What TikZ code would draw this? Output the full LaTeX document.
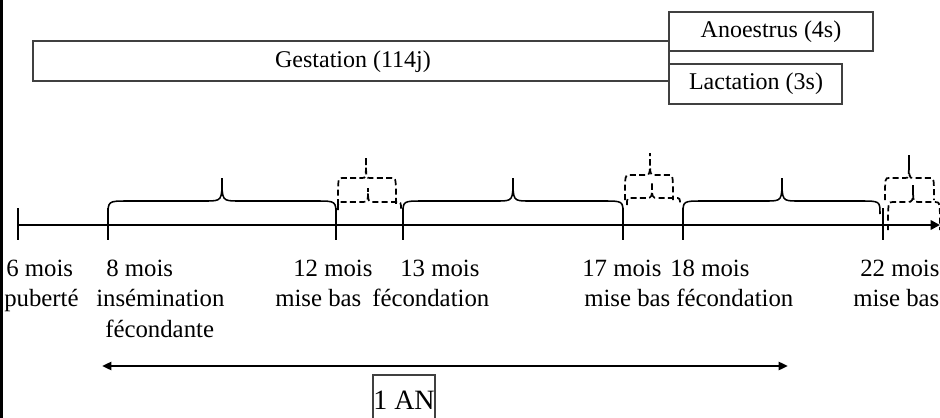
\documentclass[tikz,border=0pt]{standalone}
\usepackage{fontspec}
\setmainfont{Liberation Serif}
\usetikzlibrary{arrows.meta}
\newcommand\tlBrace[9]{%
  \draw[#1] (#2,#5) .. controls (#2,#6) .. (#2+#8,#6) -- (#4-#9,#6)
    .. controls (#4,#6) .. (#4,#7) .. controls (#4,#6) .. (#4+#9,#6)
    -- (#3-#8,#6) .. controls (#3,#6) .. (#3,#5);}
\tikzset{
  boxline/.style={draw=black!75, line width=0.8pt},
  boxtext/.style={font=\fontsize{18}{20}\selectfont, inner sep=0pt},
  lbl/.style={font=\fontsize{18.6}{22}\selectfont, inner sep=0pt, anchor=base west},
  axis/.style={line width=2.2pt},
  tick/.style={line width=2.2pt},
  sbrace/.style={line width=1.15pt},
  dbrace/.style={line width=1.3pt, dash pattern=on 4.5pt off 2.5pt},
}
\begin{document}
\begin{tikzpicture}[x=0.75pt, y=-0.75pt]
\useasboundingbox (0,0) rectangle (940,418);
\fill[white] (0,0) rectangle (940,418);
% left bar
\fill[black] (0,0) rectangle (3,418);
% top boxes
\draw[boxline] (33,41) rectangle (669,81);
\node[boxtext] (gest) at (353,62) {Gestation (114j)};
\draw[boxline] (669,12) rectangle (873,51);
\node[boxtext] (anoe) at (771,32) {Anoestrus (4s)};
\draw[boxline] (669,64) rectangle (842,104);
\node[boxtext] (lact) at (756,84) {Lactation (3s)};
% axis
\coordinate (ax0) at (17,225);
\coordinate (ax1) at (940,225);
\draw[axis, -{Triangle[length=7pt,width=7pt]}] (ax0) -- (ax1);
\foreach \n/\x in {t6/18, t8/108, t12/336, t13/403, t17/623, t18/683, t22/883}{
  \coordinate (\n) at (\x,225);
  \draw[tick] (\x,208) -- (\x,240);
}
% solid braces
\tlBrace{sbrace}{108}{336}{222}{216}{201}{178}{20}{17}
\tlBrace{sbrace}{403}{623}{513}{214}{201}{178}{20}{16}
\tlBrace{sbrace}{683}{880}{782}{214}{201}{178}{20}{16}
% dashed braces
\tlBrace{dbrace}{338}{396}{366}{205}{178}{157}{4}{4}
\tlBrace{dbrace}{338}{401}{368}{210}{202}{188}{5}{6}
\tlBrace{dbrace}{625}{673}{650}{200}{175}{153}{4}{4}
\tlBrace{dbrace}{627}{680}{652}{205}{198}{182}{5}{6}
\tlBrace{dbrace}{885}{934}{909}{200}{178}{155}{4}{4}
\tlBrace{dbrace}{888}{940}{913}{230}{202}{185}{5}{6}
% labels row 1
\node[lbl] (m6) at (6,276) {6 mois};
\node[lbl] (m8) at (106,276) {8 mois};
\node[lbl] (m12) at (293,276) {12 mois};
\node[lbl] (m13) at (400,276) {13 mois};
\node[lbl] (m17) at (582,276) {17 mois};
\node[lbl] (m18) at (670,276) {18 mois};
\node[lbl] (m22) at (860,276) {22 mois};
% row 2
\node[lbl] (e6) at (4,306) {puberté};
\node[lbl] (e8) at (96,306) {insémination};
\node[lbl] (e12) at (275,306) {mise bas};
\node[lbl] (e13) at (372,306) {fécondation};
\node[lbl] (e17) at (584,306) {mise bas};
\node[lbl] (e18) at (676,306) {fécondation};
\node[lbl] (e22) at (853,306) {mise bas};
% row 3
\node[lbl] (e8b) at (105,337) {fécondante};
% year arrow
\coordinate (y0) at (102,366);
\coordinate (y1) at (788,366);
\draw[line width=2.2pt, {Triangle[length=7pt,width=6pt]}-{Triangle[length=7pt,width=6pt]}] (y0) -- (y1);
\draw[boxline] (373,375) rectangle (435,425);
\node[font=\fontsize{21}{24}\selectfont, inner sep=0pt] (an) at (404,400) {1 AN};
\end{tikzpicture}
\end{document}
